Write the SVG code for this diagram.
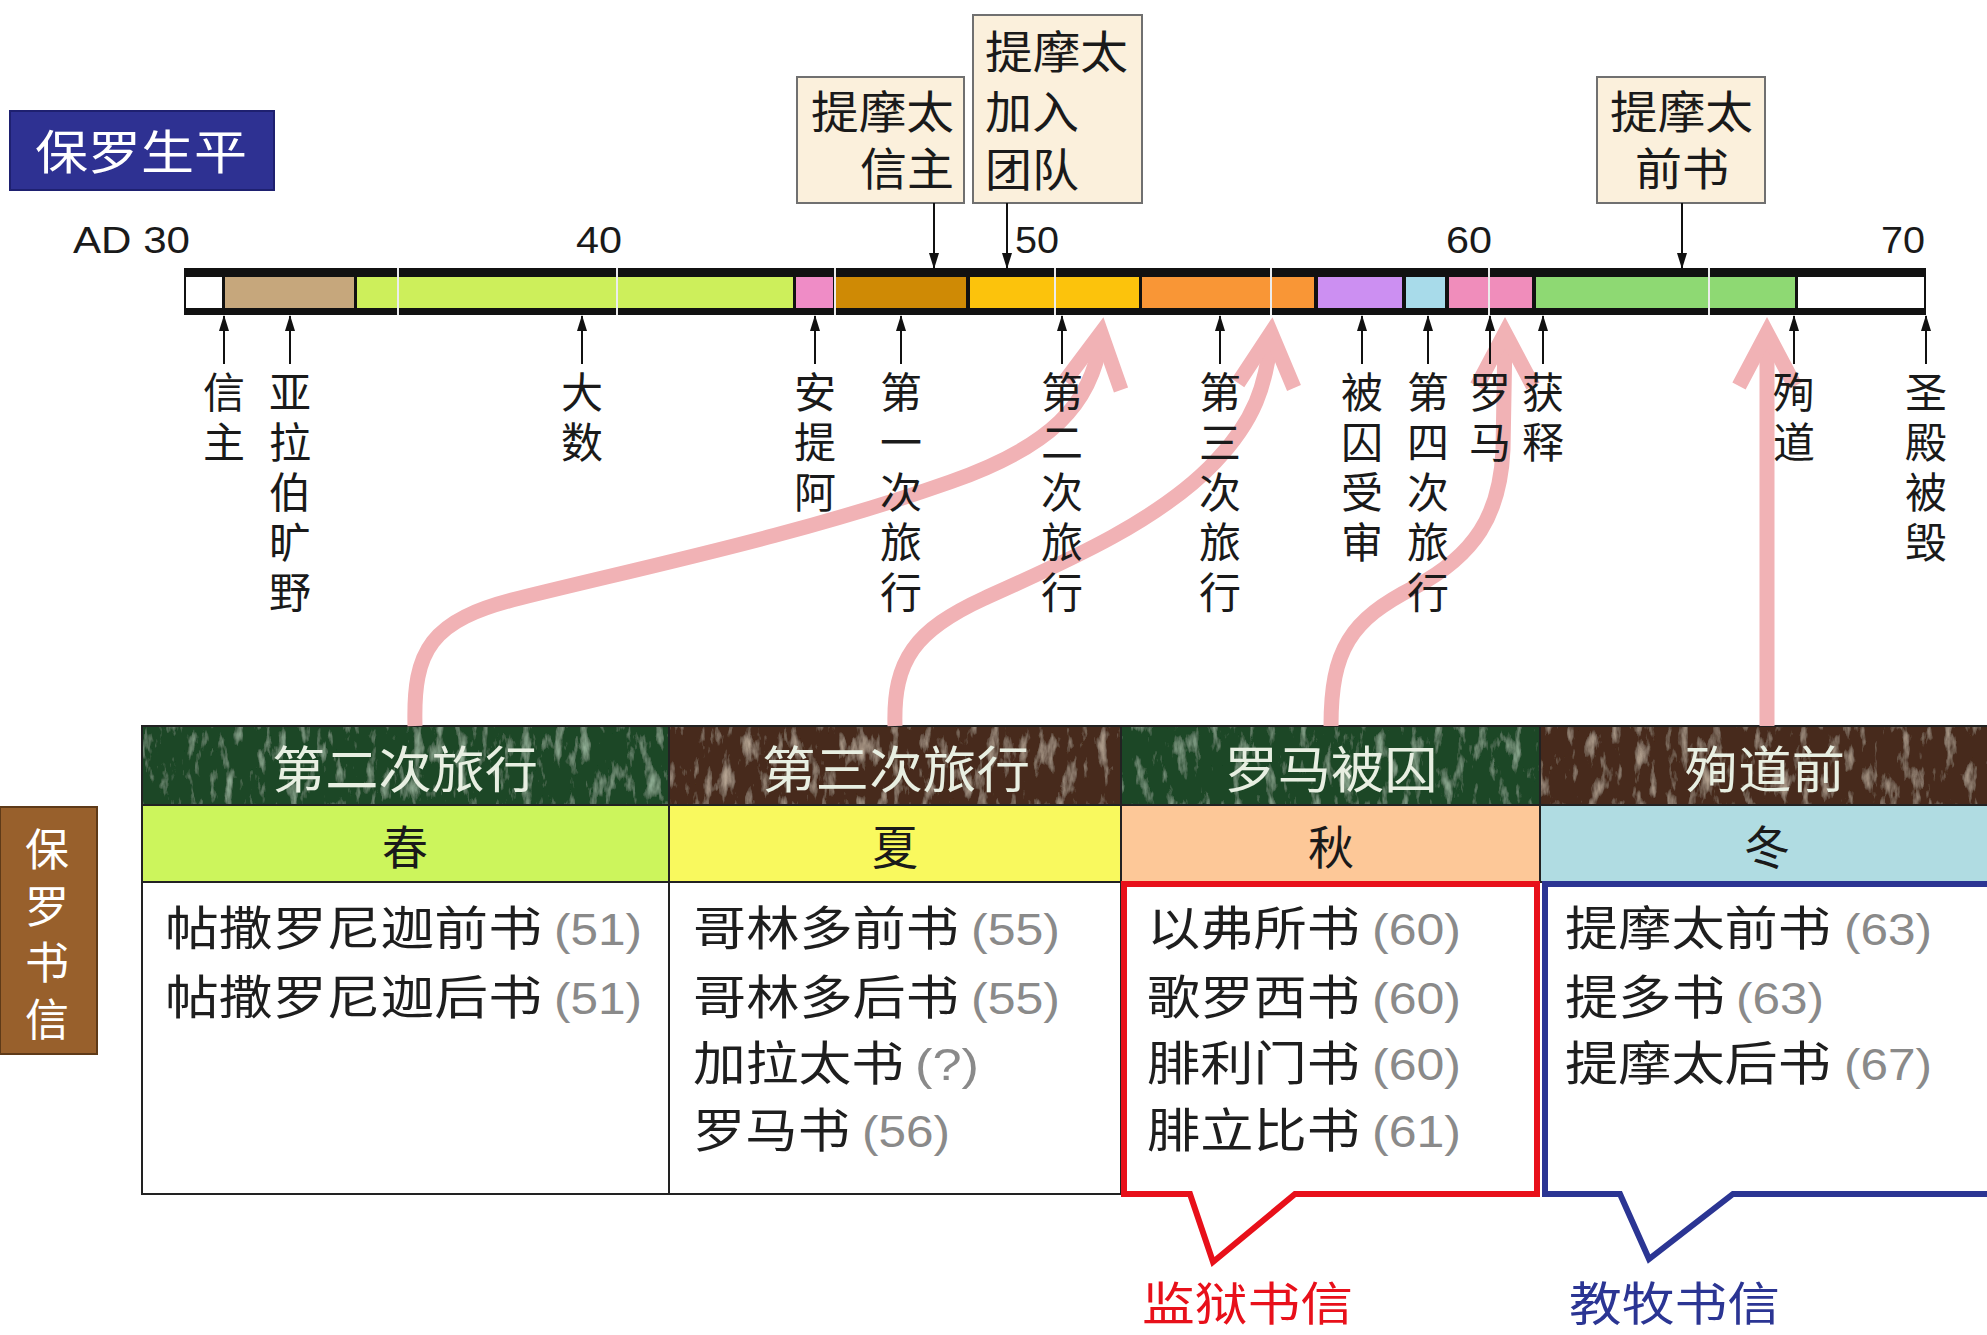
<svg xmlns="http://www.w3.org/2000/svg" width="1987" height="1335" viewBox="0 0 1987 1335">
<style>
.cjk{font-family:"Noto Sans CJK SC","Noto Sans CJK JP",sans-serif;}
.lat{font-family:"Liberation Sans",Arial,sans-serif;}
.box{fill:#fbf0dc;stroke:#707070;stroke-width:2;}
.vlab{font-size:42px;fill:#1a1a1a;text-anchor:middle;}
.yr{font-size:36px;fill:#1a1a1a;text-anchor:end;}
.hdr{font-size:50px;fill:#e8efe2;text-anchor:middle;}
.season{font-size:46px;fill:#1a1a1a;text-anchor:middle;}
.book{font-size:47px;fill:#1e1e1e;}
.yrn{font-size:44px;fill:#8a8a8a;}
.tl{stroke:#111;stroke-width:2;fill:none;}
.grid{stroke:#222;stroke-width:2;fill:none;}
.pk{stroke:#f1b2b5;stroke-width:15;fill:none;}
.pkh{stroke:#f1b2b5;stroke-width:15;fill:none;stroke-linejoin:miter;stroke-miterlimit:10;}
.tick5{stroke:#ececec;stroke-width:2;}
</style>
<defs>
<marker id="ah" viewBox="0 0 16 10" refX="15" refY="5" markerWidth="16" markerHeight="10" markerUnits="userSpaceOnUse" orient="auto">
<path d="M0,0 L16,5 L0,10 z" fill="#111"/>
</marker>
<filter id="marbleG" x="0" y="0" width="1" height="1">
<feTurbulence type="fractalNoise" baseFrequency="0.09 0.03" numOctaves="4" seed="7" result="n"/>
<feColorMatrix in="n" type="matrix" values="0 0 0 0 0.55  0 0 0 0 0.78  0 0 0 0 0.58  1.5 0 0 0 -0.82" result="w"/>
<feComposite in="w" in2="SourceGraphic" operator="in" result="wc"/>
<feMerge><feMergeNode in="SourceGraphic"/><feMergeNode in="wc"/></feMerge>
</filter>
<filter id="marbleB" x="0" y="0" width="1" height="1">
<feTurbulence type="fractalNoise" baseFrequency="0.09 0.03" numOctaves="4" seed="11" result="n"/>
<feColorMatrix in="n" type="matrix" values="0 0 0 0 0.80  0 0 0 0 0.66  0 0 0 0 0.52  1.5 0 0 0 -0.82" result="w"/>
<feComposite in="w" in2="SourceGraphic" operator="in" result="wc"/>
<feMerge><feMergeNode in="SourceGraphic"/><feMergeNode in="wc"/></feMerge>
</filter>
</defs>
<rect width="1987" height="1335" fill="#ffffff"/>

<!-- Title -->
<g id="title-life">
<rect x="10" y="111" width="264" height="79" fill="#2e3192" stroke="#1e2070" stroke-width="2"/>
<text class="cjk" x="35" y="169" font-size="47" fill="#ffffff" textLength="212" lengthAdjust="spacingAndGlyphs">保罗生平</text>
</g>

<!-- Year labels -->
<g id="years" class="lat">
<text class="yr" x="190" y="253" textLength="117" lengthAdjust="spacingAndGlyphs">AD 30</text>
<text class="yr" x="622" y="253" textLength="46" lengthAdjust="spacingAndGlyphs">40</text>
<text class="yr" x="1059" y="253" textLength="44" lengthAdjust="spacingAndGlyphs">50</text>
<text class="yr" x="1492" y="253" textLength="46" lengthAdjust="spacingAndGlyphs">60</text>
<text class="yr" x="1925" y="253" textLength="44" lengthAdjust="spacingAndGlyphs">70</text>
</g>

<!-- Timeline bar -->
<g id="timeline">
<rect x="184" y="268" width="1742" height="47" fill="#111"/>
<rect x="186" y="277" width="36" height="31" fill="#ffffff"/>
<rect x="225" y="277" width="129" height="31" fill="#c6a77c"/>
<rect x="357" y="277" width="436" height="31" fill="#cdef5b"/>
<rect x="796" y="277" width="37" height="31" fill="#ef8cc6"/>
<rect x="836" y="277" width="130" height="31" fill="#cf8a05"/>
<rect x="970" y="277" width="169" height="31" fill="#fcc30c"/>
<rect x="1142" y="277" width="172" height="31" fill="#f99636"/>
<rect x="1318" y="277" width="84" height="31" fill="#cc8ff2"/>
<rect x="1406" y="277" width="39" height="31" fill="#a8dbea"/>
<rect x="1449" y="277" width="83" height="31" fill="#f08dbb"/>
<rect x="1536" y="277" width="259" height="31" fill="#8ed973"/>
<rect x="1798" y="277" width="126" height="31" fill="#ffffff"/>
<line class="tick5" x1="398" y1="268" x2="398" y2="315"/>
<line class="tick5" x1="617" y1="268" x2="617" y2="315"/>
<line class="tick5" x1="835" y1="268" x2="835" y2="315"/>
<line class="tick5" x1="1055" y1="268" x2="1055" y2="315"/>
<line class="tick5" x1="1271" y1="268" x2="1271" y2="315"/>
<line class="tick5" x1="1489" y1="268" x2="1489" y2="315"/>
<line class="tick5" x1="1709" y1="268" x2="1709" y2="315"/>
</g>

<!-- Boxes above -->
<g id="box-timothy-believes" class="cjk">
<rect class="box" x="797" y="77" width="167" height="126"/>
<text x="811" y="129" font-size="45" fill="#1a1a1a" textLength="143" lengthAdjust="spacingAndGlyphs">提摩太</text>
<text x="860" y="186" font-size="45" fill="#1a1a1a" textLength="94" lengthAdjust="spacingAndGlyphs">信主</text>
</g>
<g id="box-timothy-joins" class="cjk">
<rect class="box" x="973" y="15" width="169" height="188"/>
<text x="985" y="69" font-size="45" fill="#1a1a1a" textLength="143" lengthAdjust="spacingAndGlyphs">提摩太</text>
<text x="985" y="129" font-size="45" fill="#1a1a1a" textLength="94" lengthAdjust="spacingAndGlyphs">加入</text>
<text x="985" y="187" font-size="45" fill="#1a1a1a" textLength="94" lengthAdjust="spacingAndGlyphs">团队</text>
</g>
<g id="box-1timothy" class="cjk">
<rect class="box" x="1597" y="77" width="168" height="126"/>
<text x="1610" y="129" font-size="45" fill="#1a1a1a" textLength="143" lengthAdjust="spacingAndGlyphs">提摩太</text>
<text x="1635" y="186" font-size="45" fill="#1a1a1a" textLength="94" lengthAdjust="spacingAndGlyphs">前书</text>
</g>

<!-- Letters side label -->
<g id="title-letters" class="cjk">
<rect x="0" y="807" width="97" height="247" fill="#98602c" stroke="#5e3a18" stroke-width="2"/>
<text x="47" y="866" font-size="44" fill="#ffffff" text-anchor="middle">保</text>
<text x="47" y="923" font-size="44" fill="#ffffff" text-anchor="middle">罗</text>
<text x="47" y="979" font-size="44" fill="#ffffff" text-anchor="middle">书</text>
<text x="47" y="1036" font-size="44" fill="#ffffff" text-anchor="middle">信</text>
</g>

<!-- Table -->
<g id="col-trip2" class="cjk">
<rect x="142" y="726" width="527" height="79" fill="#1f4628" filter="url(#marbleG)"/>
<rect x="142" y="805" width="527" height="77" fill="#ccf55c"/>
<rect x="142" y="882" width="527" height="312" fill="#ffffff"/>
<rect class="grid" x="142" y="726" width="527" height="468"/>
<line class="grid" x1="142" y1="805" x2="669" y2="805"/>
<line class="grid" x1="142" y1="882" x2="669" y2="882"/>
<text class="hdr" x="405" y="788" textLength="266" lengthAdjust="spacingAndGlyphs">第二次旅行</text>
<text class="season" x="405" y="864">春</text>
<text class="book" x="165" y="945" textLength="377" lengthAdjust="spacingAndGlyphs">帖撒罗尼迦前书</text>
<text class="yrn lat" x="554" y="945" textLength="88" lengthAdjust="spacingAndGlyphs">(51)</text>
<text class="book" x="165" y="1014" textLength="377" lengthAdjust="spacingAndGlyphs">帖撒罗尼迦后书</text>
<text class="yrn lat" x="554" y="1014" textLength="88" lengthAdjust="spacingAndGlyphs">(51)</text>
</g>

<g id="col-trip3" class="cjk">
<rect x="669" y="726" width="452" height="79" fill="#472a1b" filter="url(#marbleB)"/>
<rect x="669" y="805" width="452" height="77" fill="#f9f95e"/>
<rect x="669" y="882" width="452" height="312" fill="#ffffff"/>
<rect class="grid" x="669" y="726" width="452" height="468"/>
<line class="grid" x1="669" y1="805" x2="1121" y2="805"/>
<line class="grid" x1="669" y1="882" x2="1121" y2="882"/>
<text class="hdr" x="896" y="788" textLength="268" lengthAdjust="spacingAndGlyphs">第三次旅行</text>
<text class="season" x="895" y="864">夏</text>
<text class="book" x="693" y="945" textLength="266" lengthAdjust="spacingAndGlyphs">哥林多前书</text>
<text class="yrn lat" x="971" y="945" textLength="89" lengthAdjust="spacingAndGlyphs">(55)</text>
<text class="book" x="693" y="1014" textLength="266" lengthAdjust="spacingAndGlyphs">哥林多后书</text>
<text class="yrn lat" x="971" y="1014" textLength="89" lengthAdjust="spacingAndGlyphs">(55)</text>
<text class="book" x="693" y="1080" textLength="211" lengthAdjust="spacingAndGlyphs">加拉太书</text>
<text class="yrn lat" x="915" y="1080" textLength="64" lengthAdjust="spacingAndGlyphs">(?)</text>
<text class="book" x="693" y="1147" textLength="157" lengthAdjust="spacingAndGlyphs">罗马书</text>
<text class="yrn lat" x="862" y="1147" textLength="88" lengthAdjust="spacingAndGlyphs">(56)</text>
</g>

<g id="col-rome" class="cjk">
<rect x="1121" y="726" width="419" height="79" fill="#1f4628" filter="url(#marbleG)"/>
<rect x="1121" y="805" width="419" height="77" fill="#fdc898"/>
<rect class="grid" x="1121" y="726" width="419" height="156"/>
<line class="grid" x1="1121" y1="805" x2="1540" y2="805"/>
<text class="hdr" x="1331" y="788" textLength="213" lengthAdjust="spacingAndGlyphs">罗马被囚</text>
<text class="season" x="1331" y="864">秋</text>
<text class="book" x="1147" y="945" textLength="213" lengthAdjust="spacingAndGlyphs">以弗所书</text>
<text class="yrn lat" x="1372" y="945" textLength="89" lengthAdjust="spacingAndGlyphs">(60)</text>
<text class="book" x="1147" y="1014" textLength="213" lengthAdjust="spacingAndGlyphs">歌罗西书</text>
<text class="yrn lat" x="1372" y="1014" textLength="89" lengthAdjust="spacingAndGlyphs">(60)</text>
<text class="book" x="1147" y="1080" textLength="213" lengthAdjust="spacingAndGlyphs">腓利门书</text>
<text class="yrn lat" x="1372" y="1080" textLength="89" lengthAdjust="spacingAndGlyphs">(60)</text>
<text class="book" x="1147" y="1147" textLength="213" lengthAdjust="spacingAndGlyphs">腓立比书</text>
<text class="yrn lat" x="1372" y="1147" textLength="89" lengthAdjust="spacingAndGlyphs">(61)</text>
</g>

<g id="col-martyr" class="cjk">
<rect x="1540" y="726" width="460" height="79" fill="#472a1b" filter="url(#marbleB)"/>
<rect x="1540" y="805" width="460" height="77" fill="#b0dce2"/>
<rect class="grid" x="1540" y="726" width="460" height="156"/>
<line class="grid" x1="1540" y1="805" x2="2000" y2="805"/>
<text class="hdr" x="1765" y="788" textLength="160" lengthAdjust="spacingAndGlyphs">殉道前</text>
<text class="season" x="1767" y="864">冬</text>
<text class="book" x="1565" y="945" textLength="266" lengthAdjust="spacingAndGlyphs">提摩太前书</text>
<text class="yrn lat" x="1844" y="945" textLength="88" lengthAdjust="spacingAndGlyphs">(63)</text>
<text class="book" x="1565" y="1014" textLength="160" lengthAdjust="spacingAndGlyphs">提多书</text>
<text class="yrn lat" x="1736" y="1014" textLength="88" lengthAdjust="spacingAndGlyphs">(63)</text>
<text class="book" x="1565" y="1080" textLength="266" lengthAdjust="spacingAndGlyphs">提摩太后书</text>
<text class="yrn lat" x="1844" y="1080" textLength="88" lengthAdjust="spacingAndGlyphs">(67)</text>
</g>

<!-- Callouts -->
<g id="callout-prison" class="cjk">
<path d="M1124,884 H1537 V1194 H1295 L1213,1262 L1190,1194 H1124 Z" fill="none" stroke="#e8101a" stroke-width="6" stroke-linejoin="miter"/>
<text x="1142" y="1320" font-size="46" fill="#e8101a" textLength="211" lengthAdjust="spacingAndGlyphs">监狱书信</text>
</g>
<g id="callout-pastoral" class="cjk">
<path d="M1545,884 H2000 V1194 H1733 L1649,1259 L1620,1194 H1545 Z" fill="none" stroke="#2b3593" stroke-width="6" stroke-linejoin="miter"/>
<text x="1569" y="1320" font-size="46" fill="#2b3593" textLength="211" lengthAdjust="spacingAndGlyphs">教牧书信</text>
</g>

<!-- Connectors -->
<g id="connectors">
<path class="pk" d="M415,726 C413,650 430,620 520,598 C640,568 800,535 950,482 C1050,447 1092,405 1101,338"/>
<polyline class="pkh" points="1065,381 1101,333 1121,390"/>
<path class="pk" d="M895,726 C893,660 915,630 985,598 C1070,560 1160,520 1215,462 C1255,420 1266,385 1271,338"/>
<polyline class="pkh" points="1238,383 1271,333 1294,388"/>
<path class="pk" d="M1331,726 C1331,650 1350,620 1415,587 C1475,555 1500,515 1503,450 L1505,338"/>
<polyline class="pkh" points="1477,386 1505,333 1533,386"/>
<path class="pk" d="M1767,726 L1767,338"/>
<polyline class="pkh" points="1739,386 1767,333 1795,386"/>

<line class="tl" x1="934" y1="203" x2="934" y2="268" marker-end="url(#ah)"/>
<line class="tl" x1="1007" y1="203" x2="1007" y2="268" marker-end="url(#ah)"/>
<line class="tl" x1="1682" y1="203" x2="1682" y2="268" marker-end="url(#ah)"/>
<line class="tl" x1="224" y1="364" x2="224" y2="316" marker-end="url(#ah)"/>
<line class="tl" x1="290" y1="364" x2="290" y2="316" marker-end="url(#ah)"/>
<line class="tl" x1="582" y1="364" x2="582" y2="316" marker-end="url(#ah)"/>
<line class="tl" x1="815" y1="364" x2="815" y2="316" marker-end="url(#ah)"/>
<line class="tl" x1="901" y1="364" x2="901" y2="316" marker-end="url(#ah)"/>
<line class="tl" x1="1062" y1="364" x2="1062" y2="316" marker-end="url(#ah)"/>
<line class="tl" x1="1220" y1="364" x2="1220" y2="316" marker-end="url(#ah)"/>
<line class="tl" x1="1362" y1="364" x2="1362" y2="316" marker-end="url(#ah)"/>
<line class="tl" x1="1428" y1="364" x2="1428" y2="316" marker-end="url(#ah)"/>
<line class="tl" x1="1490" y1="364" x2="1490" y2="316" marker-end="url(#ah)"/>
<line class="tl" x1="1543" y1="364" x2="1543" y2="316" marker-end="url(#ah)"/>
<line class="tl" x1="1794" y1="364" x2="1794" y2="316" marker-end="url(#ah)"/>
<line class="tl" x1="1926" y1="364" x2="1926" y2="316" marker-end="url(#ah)"/>
</g>

<!-- Vertical labels below the bar (drawn over the pink arrows) -->
<g id="labels" class="cjk">
<g id="lab-convert"><text class="vlab" x="224" y="408">信</text><text class="vlab" x="224" y="458">主</text></g>
<g id="lab-arabia"><text class="vlab" x="290" y="408">亚</text><text class="vlab" x="290" y="458">拉</text><text class="vlab" x="290" y="508">伯</text><text class="vlab" x="290" y="558">旷</text><text class="vlab" x="290" y="608">野</text></g>
<g id="lab-tarsus"><text class="vlab" x="582" y="408">大</text><text class="vlab" x="582" y="458">数</text></g>
<g id="lab-antioch"><text class="vlab" x="815" y="408">安</text><text class="vlab" x="815" y="458">提</text><text class="vlab" x="815" y="508">阿</text></g>
<g id="lab-trip1"><text class="vlab" x="901" y="408">第</text><text class="vlab" x="901" y="458">一</text><text class="vlab" x="901" y="508">次</text><text class="vlab" x="901" y="558">旅</text><text class="vlab" x="901" y="608">行</text></g>
<g id="lab-trip2"><text class="vlab" x="1062" y="408">第</text><text class="vlab" x="1062" y="458">二</text><text class="vlab" x="1062" y="508">次</text><text class="vlab" x="1062" y="558">旅</text><text class="vlab" x="1062" y="608">行</text></g>
<g id="lab-trip3"><text class="vlab" x="1220" y="408">第</text><text class="vlab" x="1220" y="458">三</text><text class="vlab" x="1220" y="508">次</text><text class="vlab" x="1220" y="558">旅</text><text class="vlab" x="1220" y="608">行</text></g>
<g id="lab-trial"><text class="vlab" x="1362" y="408">被</text><text class="vlab" x="1362" y="458">囚</text><text class="vlab" x="1362" y="508">受</text><text class="vlab" x="1362" y="558">审</text></g>
<g id="lab-trip4"><text class="vlab" x="1428" y="408">第</text><text class="vlab" x="1428" y="458">四</text><text class="vlab" x="1428" y="508">次</text><text class="vlab" x="1428" y="558">旅</text><text class="vlab" x="1428" y="608">行</text></g>
<g id="lab-rome"><text class="vlab" x="1490" y="408">罗</text><text class="vlab" x="1490" y="458">马</text></g>
<g id="lab-release"><text class="vlab" x="1543" y="408">获</text><text class="vlab" x="1543" y="458">释</text></g>
<g id="lab-martyr"><text class="vlab" x="1794" y="408">殉</text><text class="vlab" x="1794" y="458">道</text></g>
<g id="lab-temple"><text class="vlab" x="1926" y="408">圣</text><text class="vlab" x="1926" y="458">殿</text><text class="vlab" x="1926" y="508">被</text><text class="vlab" x="1926" y="558">毁</text></g>
</g>
</svg>
